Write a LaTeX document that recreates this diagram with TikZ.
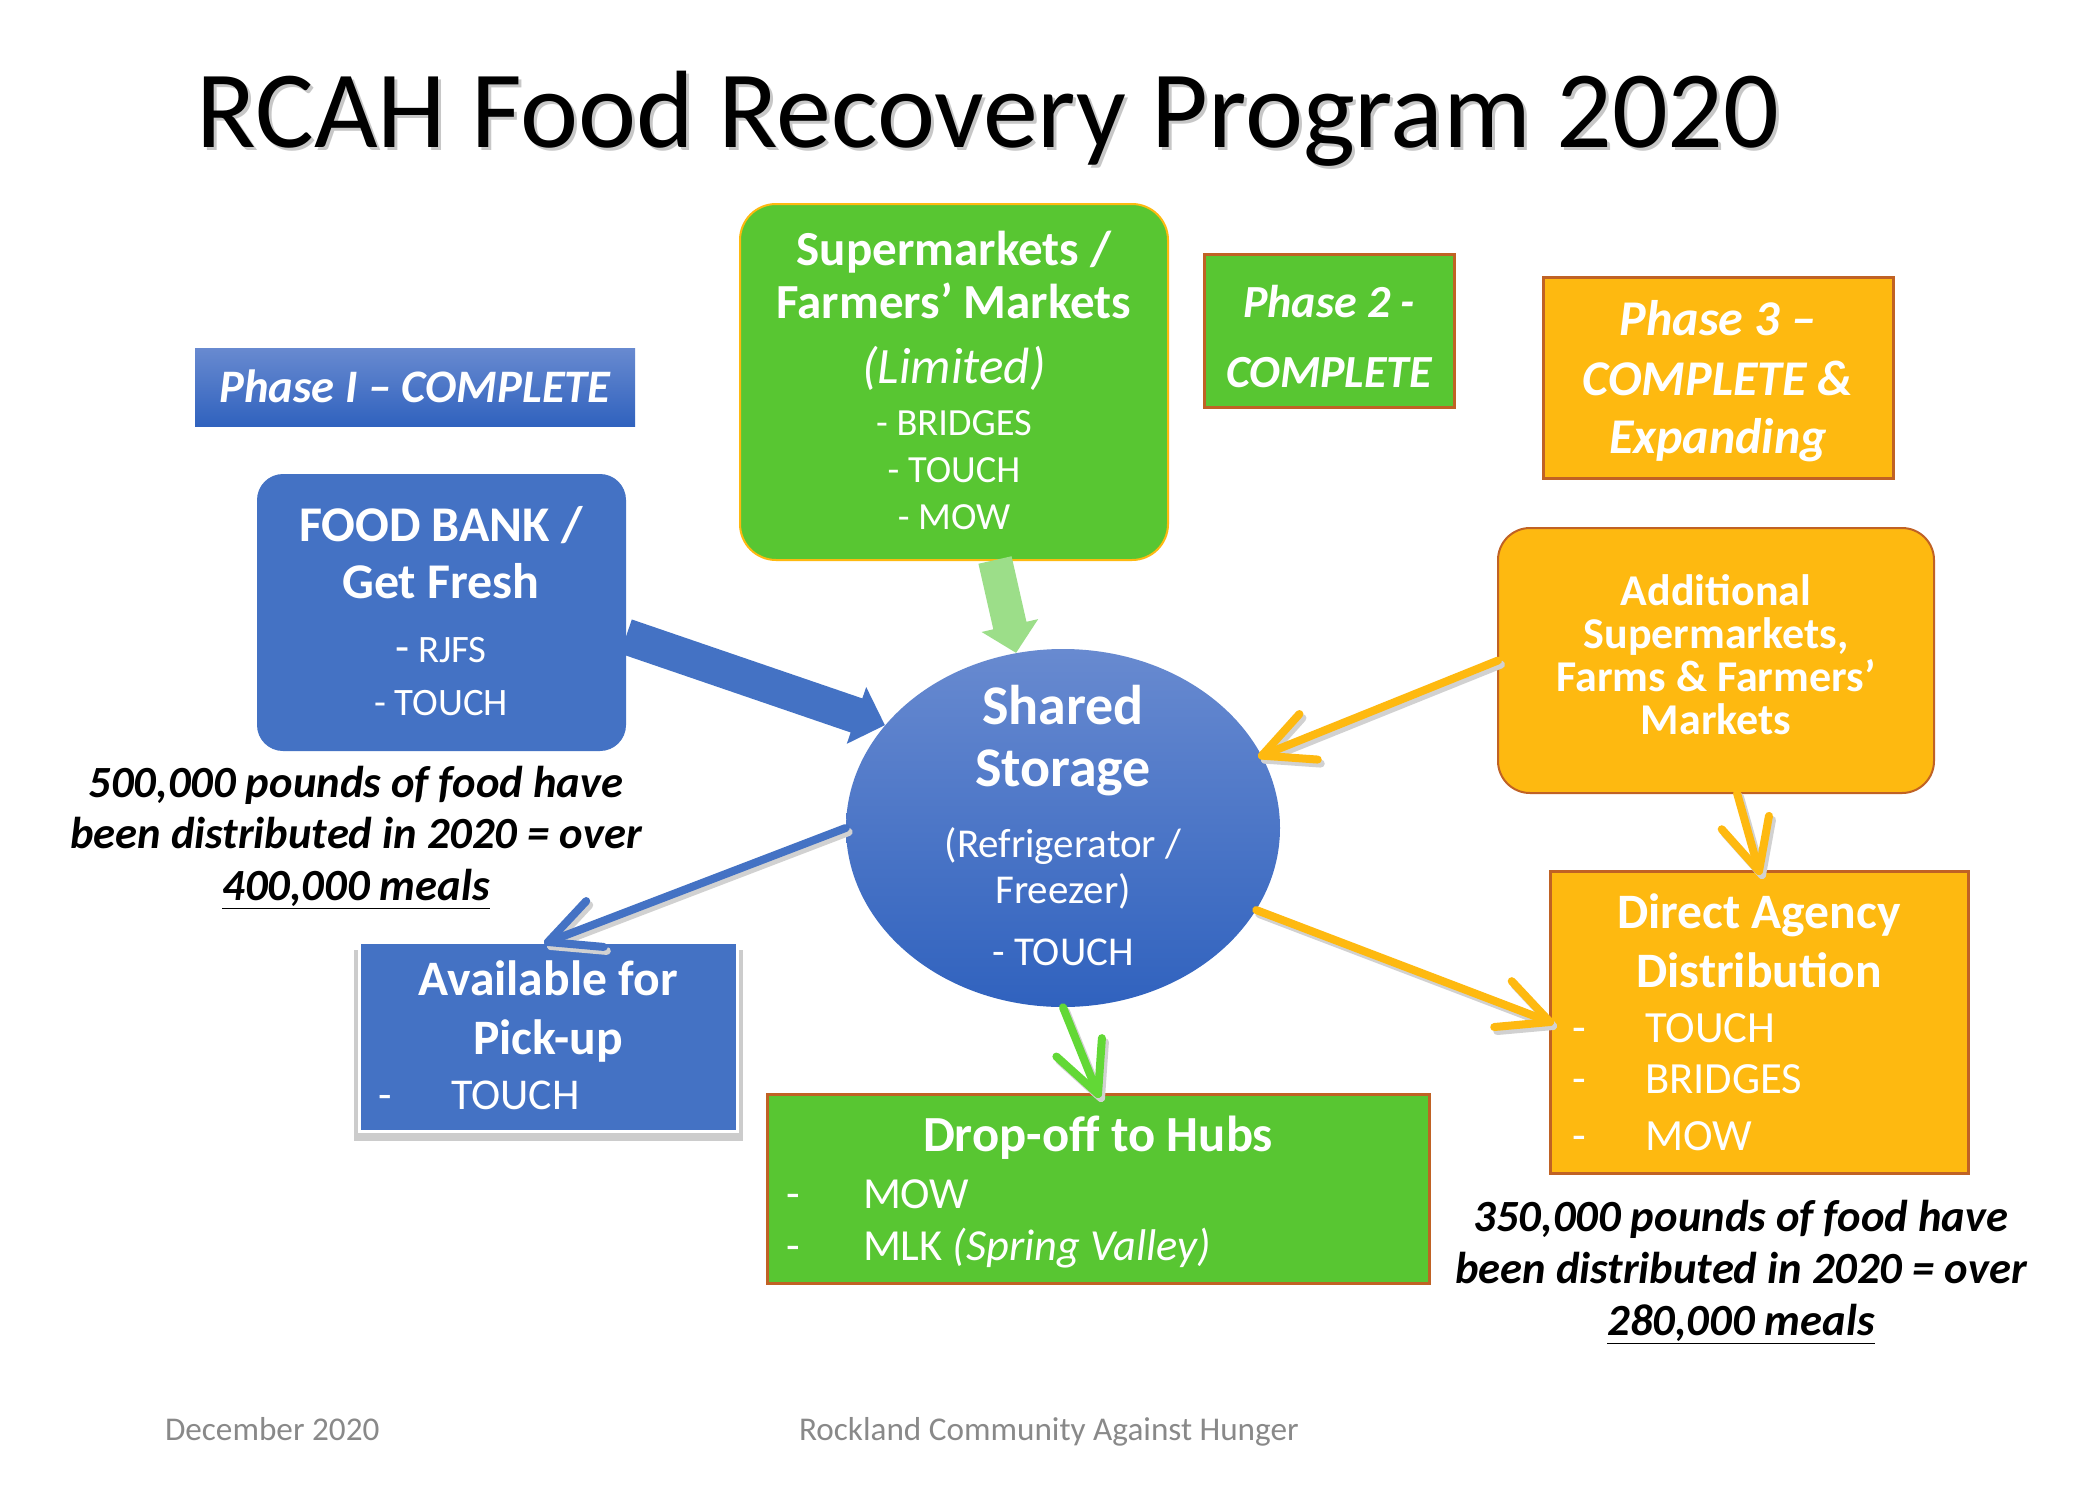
\documentclass[tikz,border=0pt]{standalone}
\usepackage{fontspec}
\setmainfont{Carlito}
\usetikzlibrary{shapes.geometric,calc}
\definecolor{cblue}{RGB}{68,114,196}
\definecolor{cbluetop}{RGB}{104,138,208}
\definecolor{cbluebot}{RGB}{48,98,190}
\definecolor{cgreen}{RGB}{88,198,50}
\definecolor{cgreenb}{RGB}{98,216,54}
\definecolor{clgreen}{RGB}{156,222,137}
\definecolor{camber}{RGB}{254,185,16}
\definecolor{cbrown}{RGB}{192,98,36}
\definecolor{cgray}{RGB}{137,137,137}
\newcommand\fsz[1]{\fontsize{#1}{#1}\selectfont}
% V-shaped line arrow with a soft shadow
\newcommand\varrow[3]{%
  \begin{scope}[transform canvas={shift={(1.5pt,-2pt)}}]
    \draw[varrowline, draw=black!18] #2 -- #3;
    \draw[varrowline, draw=black!18] ($#3!28pt!26:#2$) -- #3 -- ($#3!28pt!-26:#2$);
  \end{scope}
  \draw[varrowline, draw=#1] #2 -- #3;
  \draw[varrowline, draw=#1] ($#3!28pt!26:#2$) -- #3 -- ($#3!28pt!-26:#2$);
}
% block arrow: colour, start, tip, shaft half width, head half width, head length
\newcommand\blockarrow[6]{%
  \path #3 coordinate (bat) #2 coordinate (bas);
  \path ($(bat)!#6!(bas)$) coordinate (bah);
  \fill[#1] ($(bas)!#4!90:(bat)$) -- ($(bah)!#4!90:(bat)$) -- ($(bah)!#5!90:(bat)$)
     -- (bat) -- ($(bah)!#5!-90:(bat)$) -- ($(bah)!#4!-90:(bat)$) -- ($(bas)!#4!-90:(bat)$) -- cycle;
}
\begin{document}
\begin{tikzpicture}[x=0.5pt,y=-0.5pt,
  bx/.style={rectangle, inner sep=0pt, outer sep=0pt},
  tx/.style={anchor=base, inner sep=0pt, outer sep=0pt, text=white},
  txl/.style={anchor=base west, inner sep=0pt, outer sep=0pt, text=white},
  capt/.style={anchor=base, inner sep=0pt, outer sep=0pt, text=black, font=\fsz{22.3}\bfseries\itshape},
  foot/.style={anchor=base west, inner sep=0pt, outer sep=0pt, text=cgray, font=\fsz{16.6}},
  varrowline/.style={line width=4pt, line cap=round, line join=round},
  ambox/.style={bx, fill=camber, draw=cbrown, line width=1.5pt},
  grbox/.style={bx, fill=cgreen, draw=cbrown, line width=1.5pt}]
\useasboundingbox (0,0) rectangle (2100,1500);
\fill[white] (0,0) rectangle (2100,1500);

% title
\node[anchor=base, inner sep=0pt, text=black!22] (titlesh) at (991,150) {\fsz{55}RCAH Food Recovery Program 2020};
\node[anchor=base, inner sep=0pt] (title) at (988,147) {\fsz{55}RCAH Food Recovery Program 2020};

% boxes
\node[bx, top color=cbluetop, bottom color=cbluebot, minimum width=220pt, minimum height=39pt] (p1) at (415,387) {};
\node[bx, fill=cblue, rounded corners=13pt, minimum width=184.5pt, minimum height=138.5pt] (fb) at (441.5,612.5) {};
\node[bx, fill=cgreen, draw=camber, line width=1pt, rounded corners=18pt, minimum width=214pt, minimum height=178pt] (sm) at (954,382) {};
\node[grbox, minimum width=125pt, minimum height=76.5pt] (p2) at (1329,330.5) {};
\node[ambox, minimum width=175pt, minimum height=100.5pt] (p3) at (1718,377.5) {};
\node[ambox, line width=1pt, rounded corners=16pt, minimum width=218pt, minimum height=132.5pt] (ad) at (1716,660.5) {};
\node[ellipse, inner sep=0pt, top color=cbluetop, bottom color=cbluebot, minimum width=217pt, minimum height=179pt] (ss) at (1063,828) {};
\fill[black!20] (354,950) rectangle (743,1141);
\node[bx, fill=cblue, draw=white, line width=1.5pt, minimum width=189pt, minimum height=94.5pt] (pu) at (548,1036.5) {};
\node[grbox, minimum width=331pt, minimum height=94.5pt] (do) at (1098,1188.5) {};
\node[ambox, minimum width=209pt, minimum height=151pt] (da) at (1759,1022) {};

% connectors
\blockarrow{cblue}{($(fb.east)+(0,24)$)}{(ss.150)}{9pt}{15pt}{15pt}
\blockarrow{clgreen}{($(sm.south)+(41,0)$)}{(ss.105)}{8.5pt}{14.5pt}{14pt}
\varrow{cblue}{(ss.west)}{(pu.north)}
\varrow{camber}{(ad.west)}{(ss.20)}
\varrow{camber}{($(ad.south)+(21,0)$)}{(da.north)}
\varrow{camber}{(ss.-23)}{(da.west)}
\varrow{cgreenb}{(ss.south)}{(do.north)}

% texts
\node[tx] (p1t) at (415,402) {\fsz{23.3}\bfseries\itshape Phase I – COMPLETE};

\node[tx] (fb1) at (441,541) {\fsz{25}\bfseries FOOD BANK /};
\node[tx] (fb2) at (441,598) {\fsz{25}\bfseries Get Fresh};
\node[tx] (fb3) at (441,662) {\fsz{19.4}{\fsz{23}-} RJFS};
\node[tx] (fb4) at (441,715) {\fsz{19.4}- TOUCH};

\node[tx] (sm1) at (954,265) {\fsz{24.5}\bfseries Supermarkets /};
\node[tx] (sm2) at (954,318) {\fsz{24.5}\bfseries Farmers’ Markets};
\node[tx] (sm3) at (954,383) {\fsz{25.5}\itshape (Limited)};
\node[tx] (sm4) at (954,435) {\fsz{19.2}- BRIDGES};
\node[tx] (sm5) at (954,482) {\fsz{19.2}- TOUCH};
\node[tx] (sm6) at (954,529) {\fsz{19.2}- MOW};

\node[tx] (p2a) at (1329,317) {\fsz{23}\bfseries\itshape Phase 2 -};
\node[tx] (p2b) at (1329,387) {\fsz{23}\bfseries\itshape COMPLETE};

\node[tx] (p3a) at (1718,335) {\fsz{25}\bfseries\itshape Phase 3 –};
\node[tx] (p3b) at (1718,395) {\fsz{25}\bfseries\itshape COMPLETE \&};
\node[tx] (p3c) at (1718,453) {\fsz{25}\bfseries\itshape Expanding};

\node[tx] (ad1) at (1716,605) {\fsz{22}\bfseries Additional};
\node[tx] (ad2) at (1716,648) {\fsz{22}\bfseries Supermarkets,};
\node[tx] (ad3) at (1716,691) {\fsz{22}\bfseries Farms \& Farmers’};
\node[tx] (ad4) at (1716,734) {\fsz{22}\bfseries Markets};

\node[tx] (ss1) at (1063,724) {\fsz{28}\bfseries Shared};
\node[tx] (ss2) at (1063,786) {\fsz{28}\bfseries Storage};
\node[tx] (ss3) at (1063,857) {\fsz{20.5}(Refrigerator /};
\node[tx] (ss4) at (1063,903) {\fsz{20.5}Freezer)};
\node[tx] (ss5) at (1063,965) {\fsz{20.5}- TOUCH};

\node[tx] (pu1) at (548,995) {\fsz{24.8}\bfseries Available for};
\node[tx] (pu2) at (548,1054) {\fsz{24.8}\bfseries Pick-up};
\node[txl] (pu3) at (378,1109) {\fsz{22}-};
\node[txl] (pu4) at (451,1109) {\fsz{22}TOUCH};

\node[tx] (do1) at (1098,1151) {\fsz{25.3}\bfseries Drop-off to Hubs};
\node[txl] (do2) at (786,1208) {\fsz{22.2}-};
\node[txl] (do3) at (863,1208) {\fsz{22.2}MOW};
\node[txl] (do4) at (786,1260) {\fsz{22.2}-};
\node[txl] (do5) at (863,1260) {\fsz{22.2}MLK \textit{(Spring Valley)}};

\node[tx] (da1) at (1759,928) {\fsz{24.8}\bfseries Direct Agency};
\node[tx] (da2) at (1759,987) {\fsz{24.8}\bfseries Distribution};
\node[txl] (da3) at (1572,1042) {\fsz{22.3}-};
\node[txl] (da4) at (1645,1042) {\fsz{22.3}TOUCH};
\node[txl] (da5) at (1572,1093) {\fsz{22.3}-};
\node[txl] (da6) at (1645,1093) {\fsz{22.3}BRIDGES};
\node[txl] (da7) at (1572,1150) {\fsz{22.3}-};
\node[txl] (da8) at (1645,1150) {\fsz{22.3}MOW};

% captions
\node[capt] (lc1) at (356,797) {500,000 pounds of food have};
\node[capt] (lc2) at (356,848) {been distributed in 2020 = over};
\node[capt] (lc3) at (356,900) {\underline{400,000 meals}};
\node[capt] (rc1) at (1741,1231) {350,000 pounds of food have};
\node[capt] (rc2) at (1741,1283) {been distributed in 2020 = over};
\node[capt] (rc3) at (1741,1335) {\underline{280,000 meals}};

% footer
\node[foot] (f1) at (165,1440) {December 2020};
\node[foot] (f2) at (799,1440) {Rockland Community Against Hunger};
\end{tikzpicture}
\end{document}
